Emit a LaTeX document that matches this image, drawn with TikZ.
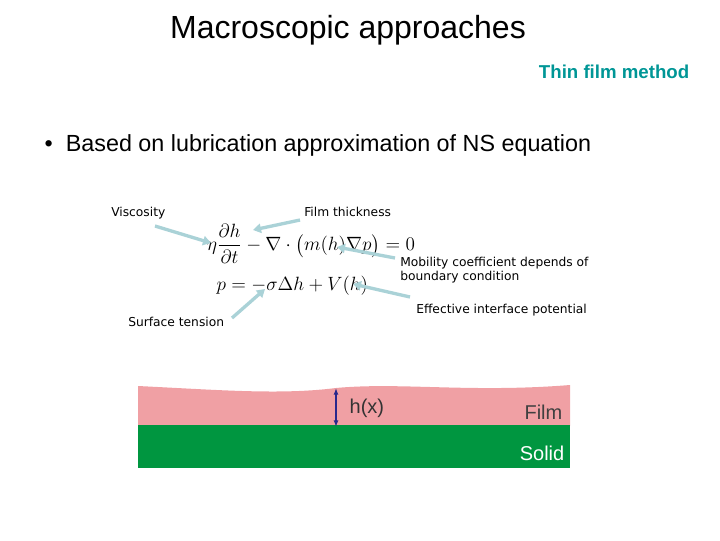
\documentclass[tikz,border=0pt]{standalone}
\usepackage{amsmath}
\usepackage{fontspec}
\setmainfont{Liberation Sans}
\newfontfamily\lblfont{DejaVu Sans}
\usetikzlibrary{arrows.meta}
\definecolor{teal1}{RGB}{0,150,150}
\definecolor{pinkf}{RGB}{240,160,164}
\definecolor{greens}{RGB}{0,150,64}
\definecolor{arr}{RGB}{170,210,215}
\begin{document}
\begin{tikzpicture}[x=0.75pt,y=-0.75pt,
  lbl/.style={font=\lblfont\fontsize{9.2}{10.5}\selectfont,anchor=west,inner sep=0pt,align=left},
  pointer/.style={draw=arr,line width=2.5pt,-{Triangle[length=6pt,width=7pt]}}]
\useasboundingbox (0,0) rectangle (720,540);
\node (title) at (348,30) {\fontsize{24}{28}\selectfont Macroscopic approaches};
\node[anchor=east,text=teal1,font=\bfseries\fontsize{14}{16}\selectfont] (tf) at (694,72) {Thin film method};
\node[anchor=west,font=\fontsize{17.5}{20}\selectfont] (bul) at (40,145) {\textbullet\ \ Based on lubrication approximation of NS equation};
\node[font=\fontsize{15}{18}\selectfont,inner sep=0pt] (eq1) at (311,244) {$\eta\dfrac{\partial h}{\partial t}-\nabla\cdot\bigl(m(h)\nabla p\bigr)=0$};
\node[font=\fontsize{15}{18}\selectfont,anchor=west] (eq2) at (212,286) {$p=-\sigma\Delta h+V(h)$};
\node[lbl] (visc) at (111,213) {Viscosity};
\node[lbl] (film) at (304,212) {Film thickness};
\node[lbl] (mob) at (400,270) {Mobility coefficient depends of\\boundary condition};
\node[lbl] (eff) at (416,310) {Effective interface potential};
\node[lbl] (surf) at (128,322) {Surface tension};
\coordinate (a1) at (211,243); \coordinate (a2) at (253,230);
\coordinate (a3) at (337,247); \coordinate (a4) at (353,284);
\coordinate (a5) at (265,289);
\draw[pointer] (155,226) -- (a1);
\draw[pointer] (300,220) -- (a2);
\draw[pointer] (395,258) -- (a3);
\draw[pointer] (410,297) -- (a4);
\draw[pointer] (232,318) -- (a5);
\fill[pinkf] (138,386) .. controls (220,390) and (280,395) .. (336,388) .. controls (400,382) and (470,393) .. (570,385) -- (570,426) -- (138,426) -- cycle;
\fill[greens] (138,425) rectangle (570,468);
\coordinate (ht) at (336,388); \coordinate (hb) at (336,427);
\draw[{Latex[length=5pt]}-{Latex[length=5pt]},line width=1.2pt,draw={rgb,255:red,40;green,40;blue,140}] (ht) -- (hb);
\node[anchor=west,text=black!80,font=\fontsize{15}{18}\selectfont] (hx) at (345,408) {h(x)};
\node[anchor=east,text=black!75,font=\fontsize{15}{18}\selectfont] (fl) at (567,412) {Film};
\node[anchor=east,text=white,font=\fontsize{15}{18}\selectfont] (so) at (569,453) {Solid};
\end{tikzpicture}
\end{document}
